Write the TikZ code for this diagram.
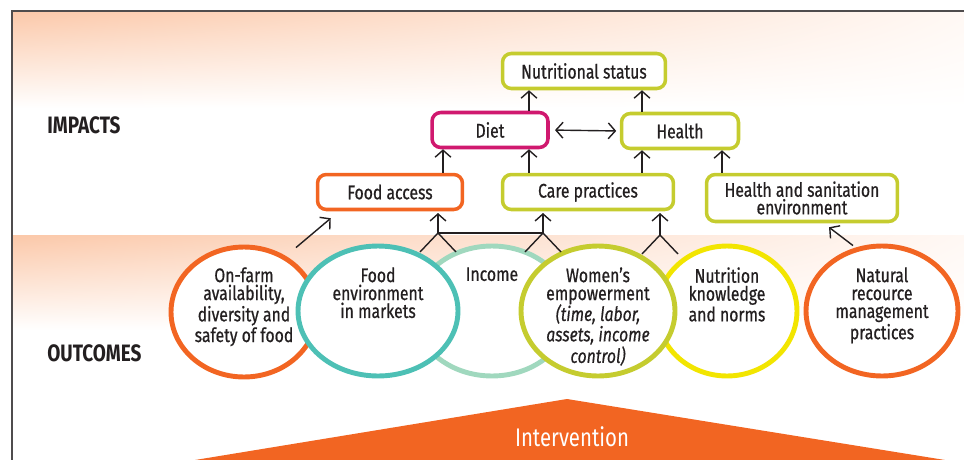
\documentclass[tikz,border=0pt]{standalone}
\usepackage{fontspec}
\setmainfont[FakeStretch=0.8, UprightFeatures={FakeBold=0.7}, ItalicFeatures={FakeBold=0.5}]{Fira Sans}
\newfontfamily\plainfont[FakeStretch=0.8]{Fira Sans}
\usetikzlibrary{arrows.meta,positioning,calc,shapes.geometric,shadings}

\definecolor{ifOrange}{HTML}{F26522}
\definecolor{ifGreen}{HTML}{C5CC2F}
\definecolor{ifMagenta}{HTML}{D0196F}
\definecolor{ifTeal}{HTML}{4DC0B5}
\definecolor{ifMint}{HTML}{A0D8BE}
\definecolor{ifYellow}{HTML}{F2E500}
\definecolor{ifText}{HTML}{231F20}
\definecolor{ifPeach}{HTML}{FBC8A9}
\definecolor{ifPeachLight}{HTML}{FFF8F4}

\begin{document}
\begin{tikzpicture}[x=0.02cm, y=-0.02cm,
    box/.style={draw, line width=2pt, rounded corners=5pt, fill=white, text=ifText,
        minimum height=0.7cm, inner sep=2pt, align=center,
        font=\fontsize{11.2}{10}\selectfont},
    ring/.style={ellipse, draw, line width=2.8pt, fill=white, inner sep=0pt,
        minimum height=2.6cm},
    ringtext/.style={anchor=north, inner sep=0pt, align=center, text=ifText,
        font=\fontsize{11.2}{10.2}\selectfont},
    level/.style={anchor=west, inner sep=0pt, text=ifText,
        font=\fontsize{13.5}{14}\selectfont\bfseries},
    arr/.style={-{Straight Barb[length=4pt,width=9pt]}, line width=0.8pt, draw=ifText},
    fork/.style={line width=0.8pt, draw=ifText}]
    \useasboundingbox (0,0) rectangle (964,460);

    % Background bands
    \shade[upper left=ifPeach, upper right=ifPeachLight, lower left=white, lower right=white]
        (12,11) rectangle (964,108);
    \shade[upper left=ifPeach, upper right=ifPeachLight, lower left=white, lower right=white]
        (12,235) rectangle (964,330);
    \draw[line width=0.8pt, draw=ifText!80] (964,11) -- (12,11) -- (12,460);

    % Levels
    \node[level] (impacts) at (47,125) {IMPACTS};
    \node[level] (outcomes) at (47,353) {OUTCOMES};

    % Intervention
    \fill[ifOrange] (195,460) -- (567,399) -- (945,460) -- cycle;
    \node[text=white, font=\plainfont\fontsize{14.5}{15}\selectfont] (interv) at (572,437) {Intervention};

    % Impacts
    \node[box, draw=ifGreen, minimum width=3.26cm] (nutri) at (584,71) {Nutritional status};
    \node[box, draw=ifMagenta, minimum width=2.32cm] (diet) at (490,130) {Diet};
    \node[box, draw=ifGreen, minimum width=2.34cm] (health) at (680,131) {Health};
    \node[box, draw=ifOrange, minimum width=2.9cm] (food) at (390,192) {Food access};
    \node[box, draw=ifGreen, minimum width=3.42cm] (care) at (588,192) {Care practices};
    \node[box, draw=ifGreen, minimum width=3.82cm, minimum height=0.94cm] (hse) at (802,198)
        {Health and sanitation\\environment};

    % Outcomes
    \node[ring, draw=ifOrange, minimum width=2.92cm] (onfarm) at (244,312) {};
    \node[ring, draw=ifMint, minimum width=3.12cm] (income) at (492,311) {};
    \node[ring, draw=ifYellow, minimum width=2.8cm] (knowl) at (727,311) {};
    \node[ring, draw=ifTeal, minimum width=3.2cm] (foodenv) at (378,311) {};
    \node[ring, draw=ifGreen, minimum width=3.08cm] (women) at (598,311) {};
    \node[ring, draw=ifOrange, minimum width=3.04cm] (natural) at (882,311) {};

    \node[ringtext] (onfarm-t) at (244,267) {On-farm\\availability,\\diversity and\\safety of food};
    \node[ringtext] (foodenv-t) at (378,267) {Food\\environment\\in markets};
    \node[ringtext] (income-t) at (492,267) {Income};
    \node[ringtext] (women-t) at (598,267)
        {Women’s\\empowerment\\[-1pt]\itshape (time, labor,\\\itshape assets, income\\\itshape control)};
    \node[ringtext] (knowl-t) at (727,267) {Nutrition\\knowledge\\and norms};
    \node[ringtext] (natural-t) at (882,267) {Natural\\recource\\management\\practices};

    % Links between impacts
    \draw[arr] (diet.north -| 529,0) -- (nutri.south -| 529,0);
    \draw[arr] (health.north -| 642,0) -- (nutri.south -| 642,0);
    \draw[arr, {Straight Barb[length=4pt,width=9pt]}-{Straight Barb[length=4pt,width=9pt]},
        shorten <=3pt, shorten >=2pt] (diet.east) -- (health.west);
    \draw[arr] (food.north -| 443,0) -- (diet.south -| 443,0);
    \draw[arr] (care.north -| 529,0) -- (diet.south -| 529,0);
    \draw[arr] (care.north -| 642,0) -- (health.south -| 642,0);
    \draw[arr] (hse.north -| 722,0) -- (health.south -| 722,0);

    % Links from outcomes
    \draw[arr] ($(onfarm.north)+(52,3)$) -- ($(food.south west)+(15,7)$);
    \draw[arr] ($(natural.north)+(-29,2)$) -- ($(hse.south)+(27,4)$);

    \coordinate (jA) at (438,233);
    \coordinate (jB) at (543,233);
    \coordinate (jC) at (660,235);
    \draw[arr, shorten >=1pt] (jA) -- (food.south -| jA);
    \draw[arr, shorten >=1pt] (jB) -- (care.south -| jB);
    \draw[arr, shorten >=1pt] (jC) -- (care.south -| jC);
    \draw[fork] (jA) -- (jB);
    \foreach \j in {jA, jB, jC} {
        \draw[fork] ($(\j)+(-18,19)$) -- (\j) -- ($(\j)+(18,19)$);
    }
\end{tikzpicture}
\end{document}
